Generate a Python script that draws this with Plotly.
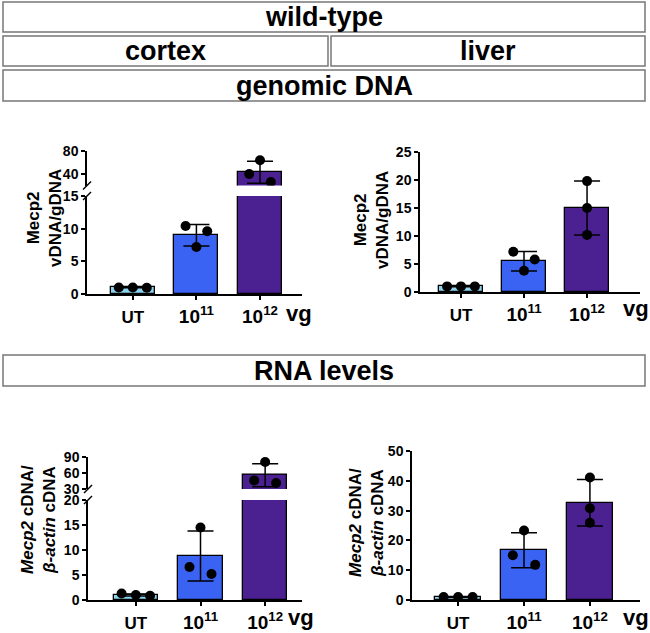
import plotly.graph_objects as go

W, H = 650, 633

# ---------------- data ----------------
groups = ["<span style='font-size:17px'>UT</span>", "10<sup>11</sup>", "10<sup>12</sup>"]
bar_colors = ["#8dd3ef", "#3a63f3", "#4b2090"]

# genomic DNA, cortex
cortex_dna_mean = [1.0, 9.0, 43.0]
cortex_dna_sd = [0.05, 1.65, 19.0]
cortex_dna_pts = [[1.0, 1.0, 0.95], [10.4, 7.2, 9.6], [40.0, 64.0, 26.0]]

# genomic DNA, liver
liver_dna_mean = [1.0, 5.5, 15.0]
liver_dna_sd = [0.05, 1.75, 4.8]
liver_dna_pts = [[1.0, 1.0, 1.0], [7.2, 3.8, 5.8], [19.8, 15.0, 10.2]]

# RNA, cortex
cortex_rna_mean = [1.0, 8.8, 55.7]
cortex_rna_sd = [0.22, 5.0, 21.3]
cortex_rna_pts = [[1.3, 1.0, 0.85], [6.6, 14.5, 5.2], [46.0, 80.0, 41.0]]

# RNA, liver
liver_rna_mean = [1.0, 16.7, 32.6]
liver_rna_sd = [0.1, 5.9, 7.8]
liver_rna_pts = [[1.0, 1.0, 1.0], [15.0, 23.3, 11.8], [41.1, 30.8, 25.9]]

# point jitter (left / centre / right within a bar)
jit_spread = [[-0.22, 0.0, 0.22], [-0.17, 0.0, 0.17], [-0.17, 0.0, 0.17]]
jit_column = [[-0.22, 0.0, 0.22], [-0.17, 0.0, 0.17], [0.0, 0.0, 0.0]]

FONT = "Liberation Sans, Arial, Helvetica, sans-serif"


def px(x):
    return x / W


def py(y):
    return 1 - y / H


fig = go.Figure()

panels = [
    dict(mean=cortex_dna_mean, sd=cortex_dna_sd, pts=cortex_dna_pts, jit=jit_spread,
         xdom=(87, 302), xr=(-0.72, 2.66),
         segs=[((196, 294), (0, 15), [0, 5, 10, 15]), ((151, 185.5), (20, 80), [40, 80])],
         title="Mecp2<br>vDNA/gDNA", tpos=(44, 218), vg=(299, 313)),
    dict(mean=liver_dna_mean, sd=liver_dna_sd, pts=liver_dna_pts, jit=jit_column,
         xdom=(420, 640), xr=(-0.65, 2.84),
         segs=[((152, 292), (0, 25), [0, 5, 10, 15, 20, 25])],
         title="Mecp2<br>vDNA/gDNA", tpos=(372, 220), vg=(636, 308)),
    dict(mean=cortex_rna_mean, sd=cortex_rna_sd, pts=cortex_rna_pts, jit=jit_spread,
         xdom=(88, 302), xr=(-0.74, 2.57),
         segs=[((500, 600), (0, 20), [0, 5, 10, 15, 20]), ((456.7, 489), (30, 90), [30, 60, 90])],
         title="<i>Mecp2</i> cDNA/<br><i>β-actin</i> cDNA", tpos=(38, 520), vg=(301, 617)),
    dict(mean=liver_rna_mean, sd=liver_rna_sd, pts=liver_rna_pts, jit=jit_column,
         xdom=(412, 640), xr=(-0.70, 2.76),
         segs=[((451, 600), (0, 50), [0, 10, 20, 30, 40, 50])],
         title="<i>Mecp2</i> cDNA/<br><i>β-actin</i> cDNA", tpos=(366, 522), vg=(636, 617)),
]

shapes = []
annotations = []
axn = 0
for p in panels:
    first = True
    for (ydom, yr, tv) in p["segs"]:
        axn += 1
        xa = "x" if axn == 1 else f"x{axn}"
        ya = "y" if axn == 1 else f"y{axn}"
        xkey = "xaxis" if axn == 1 else f"xaxis{axn}"
        ykey = "yaxis" if axn == 1 else f"yaxis{axn}"
        xs = [0, 1, 2]
        fig.add_trace(go.Bar(
            x=xs, y=p["mean"], xaxis=xa, yaxis=ya, width=0.69,
            marker=dict(color=bar_colors, line=dict(color="black", width=1.3)),
            error_y=dict(type="data", array=p["sd"], visible=True, color="black",
                         thickness=1.5, width=13),
            showlegend=False, hoverinfo="skip"))
        px_pts, py_pts = [], []
        for i in range(3):
            for j in range(3):
                px_pts.append(xs[i] + p["jit"][i][j])
                py_pts.append(p["pts"][i][j])
        fig.add_trace(go.Scatter(
            x=px_pts, y=py_pts, xaxis=xa, yaxis=ya, mode="markers",
            marker=dict(color="black", size=10), showlegend=False, hoverinfo="skip"))
        fig.layout[xkey] = dict(
            domain=[px(p["xdom"][0]), px(p["xdom"][1])], range=list(p["xr"]), anchor=ya,
            showline=first, linecolor="black", linewidth=1.5, automargin=False,
            ticks="outside" if first else "", ticklen=4, tickwidth=1.5, tickcolor="black",
            tickvals=xs, ticktext=groups, showticklabels=first,
            tickfont=dict(family=FONT, size=19, color="black", weight="bold"),
            showgrid=False, zeroline=False, fixedrange=True)
        fig.layout[ykey] = dict(
            domain=[py(ydom[1]), py(ydom[0])], range=list(yr), anchor=xa,
            showline=True, linecolor="black", linewidth=1.5, automargin=False,
            ticks="outside", ticklen=4, tickwidth=1.5, tickcolor="black",
            tickvals=tv, tickfont=dict(family=FONT, size=14, color="black", weight="bold"),
            showgrid=False, zeroline=False, fixedrange=True)
        if len(p["segs"]) > 1:
            # break slashes
            yb = ydom[0] if first else ydom[1]
            x0 = p["xdom"][0]
            shapes.append(dict(type="line", xref="paper", yref="paper",
                               x0=px(x0 - 4), x1=px(x0 + 4), y0=py(yb + 4), y1=py(yb - 4),
                               line=dict(color="black", width=1.5)))
        first = False
    annotations.append(dict(text=p["title"], x=px(p["tpos"][0]), y=py(p["tpos"][1]),
                            xref="paper", yref="paper", showarrow=False, textangle=-90,
                            font=dict(family=FONT, size=17, color="black", weight="bold"),
                            xanchor="center", yanchor="middle"))
    annotations.append(dict(text="vg", x=px(p["vg"][0]), y=py(p["vg"][1]),
                            xref="paper", yref="paper", showarrow=False,
                            font=dict(family=FONT, size=22, color="black", weight="bold"),
                            xanchor="center", yanchor="middle"))

boxes = [
    ("wild-type", 3, 645, 2, 32),
    ("cortex", 3, 328, 36, 66),
    ("liver", 331, 645, 36, 66),
    ("genomic DNA", 3, 645, 70, 101),
    ("RNA levels", 3, 645, 355, 386),
]
for (txt, x0, x1, y0, y1) in boxes:
    shapes.append(dict(type="rect", xref="paper", yref="paper",
                       x0=px(x0), x1=px(x1), y0=py(y1), y1=py(y0),
                       line=dict(color="#777777", width=1.5), fillcolor="white", layer="below"))
    annotations.append(dict(text=txt, x=px((x0 + x1) / 2), y=py((y0 + y1) / 2),
                            xref="paper", yref="paper", showarrow=False,
                            font=dict(family=FONT, size=27, color="black", weight="bold"),
                            xanchor="center", yanchor="middle"))

fig.update_layout(template="none", width=W, height=H,
                  margin=dict(l=0, r=0, t=0, b=0, pad=0, autoexpand=False),
                  paper_bgcolor="white", plot_bgcolor="rgba(0,0,0,0)",
                  shapes=shapes, annotations=annotations, bargap=0)
fig.write_html("out.html", config={"displayModeBar": False},
               post_script="document.body.style.margin='0';document.body.style.overflow='hidden';")
